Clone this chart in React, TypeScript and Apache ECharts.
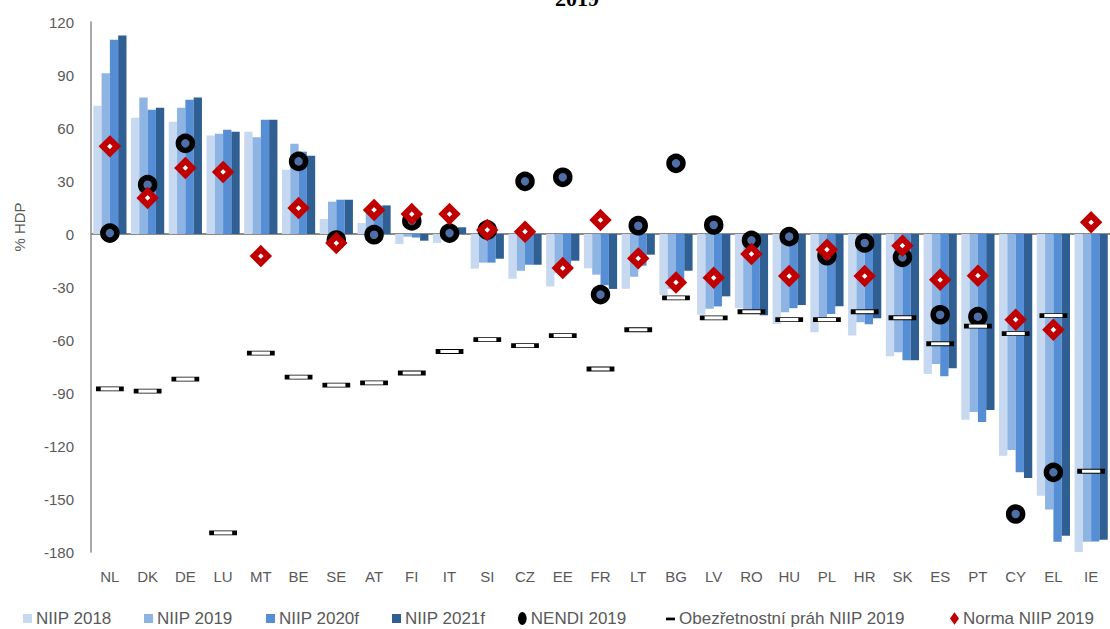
import React, { useEffect, useRef } from "react";
import * as echarts from "echarts";

const categories = ["NL","DK","DE","LU","MT","BE","SE","AT","FI","IT","SI","CZ","EE","FR","LT","BG","LV","RO","HU","PL","HR","SK","ES","PT","CY","EL","IE"];

const niip2018 = [72.6, 65.8, 63.6, 55.7, 57.9, 36.4, 8.5, 6.2, -5.7, -5.0, -19.6, -25.3, -29.7, -19.4, -31.0, -34.5, -45.7, -42.0, -50.9, -55.6, -57.5, -69.2, -79.2, -105.2, -125.5, -148.1, -180.2];
const niip2019 = [91.0, 77.2, 71.5, 56.8, 54.7, 51.1, 18.3, 12.5, -1.5, -3.0, -16.2, -20.8, -22.0, -23.0, -24.2, -31.0, -42.3, -43.0, -44.3, -48.5, -50.0, -67.0, -73.6, -100.8, -122.3, -156.0, -174.2];
const niip2020 = [110.0, 70.4, 76.0, 59.0, 64.7, 46.6, 19.4, 16.0, -2.0, 2.0, -16.2, -17.4, -19.0, -29.0, -17.9, -27.0, -41.0, -45.0, -42.0, -45.3, -51.1, -71.5, -80.5, -106.4, -134.9, -174.2, -174.0];
const niip2021 = [112.3, 71.5, 77.2, 57.9, 64.7, 44.3, 19.4, 16.2, -3.8, 3.8, -14.0, -17.4, -15.1, -31.1, -11.7, -20.8, -35.3, -46.0, -40.2, -40.9, -47.7, -71.5, -76.0, -99.6, -138.1, -170.8, -173.0];
const nendi2019: (number | string)[] = [0.5, 27.9, 51.3, "-", "-", 41.1, -3.4, -0.4, 7.4, 0.5, 2.3, 29.8, 32.1, -34.3, 4.7, 40.0, 5.1, -3.6, -1.5, -12.3, -5.1, -13.2, -45.7, -46.8, -158.5, -134.9, "-"];
const prah2019 = [-87.7, -88.9, -82.1, -169.2, -67.4, -81.0, -85.5, -84.3, -78.7, -66.5, -59.8, -63.2, -57.5, -76.4, -54.2, -36.2, -47.5, -44.0, -48.5, -48.5, -44.0, -47.4, -62.1, -52.1, -56.4, -46.2, -134.3];
const norma2019 = [49.6, 20.4, 37.4, 35.1, -12.5, 14.7, -5.1, 13.6, 11.3, 11.3, 2.3, 1.3, -19.3, 7.9, -13.8, -27.4, -24.8, -11.3, -23.8, -8.9, -23.8, -6.6, -25.9, -23.6, -48.5, -54.2, 6.6];
const yTicks = { min: -180, max: 120, interval: 30 };

const names = ["NIIP 2018", "NIIP 2019", "NIIP 2020f", "NIIP 2021f", "NENDI 2019", "Obezřetnostní práh NIIP 2019", "Norma NIIP 2019"];
const barColors = ["#c6d9f1", "#8db4e3", "#558ed5", "#2f5f93"];
const legendLeft = [23, 144, 266, 392, 518, 666, 950];

export default function App() {
  const ref = useRef<HTMLDivElement>(null);
  useEffect(() => {
    if (!ref.current) return;
    const chart = echarts.init(ref.current, null, { renderer: "svg" });
    const font = "Liberation Sans";
    const barData = [niip2018, niip2019, niip2020, niip2021];
    const barSeries = barData.map((d, i) => ({
      name: names[i],
      type: "bar",
      data: d,
      barWidth: "22%",
      barGap: "0%",
      itemStyle: { color: barColors[i] },
      z: 2,
      ...(i === 0
        ? {
            markLine: {
              silent: true,
              symbol: ["none", "none"],
              label: { show: false },
              lineStyle: { color: "#8c8c8c", width: 2, type: "solid" },
              data: [{ yAxis: 0 }],
              z: 1,
            },
          }
        : {}),
    }));
    const legendIcons: any[] = [
      { icon: "rect", itemStyle: { color: barColors[0] } },
      { icon: "rect", itemStyle: { color: barColors[1] } },
      { icon: "rect", itemStyle: { color: barColors[2] } },
      { icon: "rect", itemStyle: { color: barColors[3] } },
      { icon: "path://M5,0A4,6,0,1,1,5,12A4,6,0,1,1,5,0Z", itemStyle: { color: "#000", borderWidth: 0 } },
      { icon: "path://M0,0M0,4h10v3h-10zM10,10", itemStyle: { color: "#000", borderWidth: 0 } },
      { icon: "path://M5,0L10,7L5,14L0,7Z", itemStyle: { color: "#c00000", borderWidth: 0 } },
    ];
    const legends = names.map((n, i) => ({
      left: legendLeft[i],
      top: 610,
      itemWidth: 9,
      itemHeight: i === 4 || i === 6 ? 13 : 9,
      itemGap: 0,
      padding: 0,
      textStyle: { color: "#595959", fontSize: 17, fontFamily: font, padding: [0, 0, 0, -1] },
      data: [{ name: n, ...legendIcons[i] }],
    }));
    chart.setOption({
      animation: false,
      backgroundColor: "#fff",
      textStyle: { fontFamily: font },
      grid: { left: 91, top: 22, width: 1022, height: 530, containLabel: false },
      legend: legends,
      graphic: [
        {
          type: "text",
          x: 577,
          y: 9,
          style: { text: "2019", font: "bold 22px 'Liberation Serif'", fill: "#000", align: "center", verticalAlign: "bottom" },
        },
        {
          type: "text",
          x: 19,
          y: 227,
          rotation: Math.PI / 2,
          style: { text: "% HDP", font: "15px 'Liberation Sans'", fill: "#595959", align: "center", verticalAlign: "middle" },
        },
      ],
      xAxis: {
        type: "category",
        data: categories,
        axisLine: { show: false, onZero: false },
        axisTick: { show: false },
        axisLabel: { color: "#595959", fontSize: 15, margin: 17, interval: 0 },
      },
      yAxis: {
        type: "value",
        min: yTicks.min,
        max: yTicks.max,
        interval: yTicks.interval,
        splitLine: { show: false },
        axisLine: { show: true, lineStyle: { color: "#8c8c8c", width: 1.5 } },
        axisTick: { show: false },
        axisLabel: { color: "#595959", fontSize: 15, margin: 17 },
      },
      series: [
        ...barSeries,
        {
          name: names[4],
          type: "scatter",
          data: nendi2019,
          symbol: "circle",
          symbolSize: 14,
          itemStyle: { color: "#4f6fa6", borderColor: "#000", borderWidth: 5.5, opacity: 1 },
          z: 3,
        },
        {
          name: names[5],
          type: "scatter",
          data: prah2019,
          symbol: "rect",
          symbolSize: [23, 4],
          itemStyle: { color: "#fff", borderColor: "#000", borderWidth: 2, opacity: 1 },
          z: 4,
        },
        {
          name: names[6],
          type: "scatter",
          data: norma2019,
          symbol: "diamond",
          symbolSize: 14,
          itemStyle: { color: "#fff", borderColor: "#c00000", borderWidth: 6, opacity: 1 },
          z: 5,
        },
      ],
    });
    return () => chart.dispose();
  }, []);
  return <div ref={ref} style={{ position: "absolute", left: 0, top: 0, width: 1110, height: 629 }} />;
}
